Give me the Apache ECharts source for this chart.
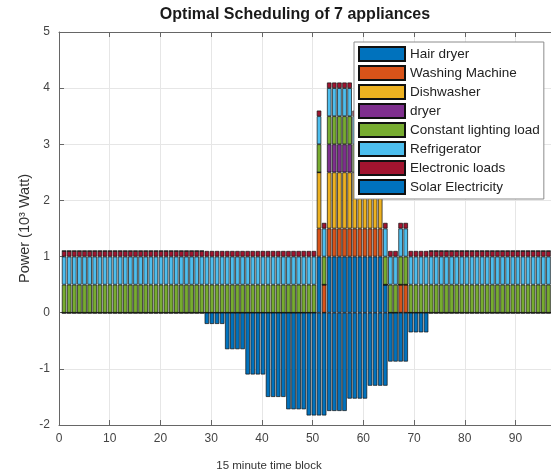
<!DOCTYPE html>
<html>
<head>
<meta charset="utf-8">
<title>Optimal Scheduling of 7 appliances</title>
<script src="https://cdn.jsdelivr.net/npm/echarts@6/dist/echarts.min.js"></script>
<style>
  html, body { margin: 0; padding: 0; background: #fff; }
  #chart { width: 551px; height: 475px; }
</style>
</head>
<body>
<div id="chart"></div>
<script>
// 15-minute time blocks of one day
const blocks = [
  1, 2, 3, 4, 5, 6, 7, 8, 9, 10,
  11, 12, 13, 14, 15, 16, 17, 18, 19, 20,
  21, 22, 23, 24, 25, 26, 27, 28, 29, 30,
  31, 32, 33, 34, 35, 36, 37, 38, 39, 40,
  41, 42, 43, 44, 45, 46, 47, 48, 49, 50,
  51, 52, 53, 54, 55, 56, 57, 58, 59, 60,
  61, 62, 63, 64, 65, 66, 67, 68, 69, 70,
  71, 72, 73, 74, 75, 76, 77, 78, 79, 80,
  81, 82, 83, 84, 85, 86, 87, 88, 89, 90,
  91, 92, 93, 94, 95, 96
];

// Power per block, in kW
const hairDryer = [
  0, 0, 0, 0, 0, 0, 0, 0, 0, 0,
  0, 0, 0, 0, 0, 0, 0, 0, 0, 0,
  0, 0, 0, 0, 0, 0, 0, 0, 0, 0,
  0, 0, 0, 0, 0, 0, 0, 0, 0, 0,
  0, 0, 0, 0, 0, 0, 0, 0, 0, 0,
  1, 0, 1, 1, 1, 1, 1, 1, 1, 1,
  1, 1, 1, 0.5, 0, 0, 0, 0, 0, 0,
  0, 0, 0, 0, 0, 0, 0, 0, 0, 0,
  0, 0, 0, 0, 0, 0, 0, 0, 0, 0,
  0, 0, 0, 0, 0, 0
];

const washingMachine = [
  0, 0, 0, 0, 0, 0, 0, 0, 0, 0,
  0, 0, 0, 0, 0, 0, 0, 0, 0, 0,
  0, 0, 0, 0, 0, 0, 0, 0, 0, 0,
  0, 0, 0, 0, 0, 0, 0, 0, 0, 0,
  0, 0, 0, 0, 0, 0, 0, 0, 0, 0,
  0.5, 0.5, 0.5, 0.5, 0.5, 0.5, 0.5, 0.5, 0.5, 0.5,
  0.5, 0.5, 0.5, 0, 0, 0, 0.5, 0.5, 0, 0,
  0, 0, 0, 0, 0, 0, 0, 0, 0, 0,
  0, 0, 0, 0, 0, 0, 0, 0, 0, 0,
  0, 0, 0, 0, 0, 0
];

const dishwasher = [
  0, 0, 0, 0, 0, 0, 0, 0, 0, 0,
  0, 0, 0, 0, 0, 0, 0, 0, 0, 0,
  0, 0, 0, 0, 0, 0, 0, 0, 0, 0,
  0, 0, 0, 0, 0, 0, 0, 0, 0, 0,
  0, 0, 0, 0, 0, 0, 0, 0, 0, 0,
  1, 0, 1, 1, 1, 1, 1, 1, 1, 1,
  1, 1, 1, 0, 0, 0, 0, 0, 0, 0,
  0, 0, 0, 0, 0, 0, 0, 0, 0, 0,
  0, 0, 0, 0, 0, 0, 0, 0, 0, 0,
  0, 0, 0, 0, 0, 0
];

const dryer = [
  0, 0, 0, 0, 0, 0, 0, 0, 0, 0,
  0, 0, 0, 0, 0, 0, 0, 0, 0, 0,
  0, 0, 0, 0, 0, 0, 0, 0, 0, 0,
  0, 0, 0, 0, 0, 0, 0, 0, 0, 0,
  0, 0, 0, 0, 0, 0, 0, 0, 0, 0,
  0, 0, 0.5, 0.5, 0.5, 0.5, 0.5, 0, 0, 0,
  0, 0, 0, 0, 0, 0, 0, 0, 0, 0,
  0, 0, 0, 0, 0, 0, 0, 0, 0, 0,
  0, 0, 0, 0, 0, 0, 0, 0, 0, 0,
  0, 0, 0, 0, 0, 0
];

const lighting = [
  0.5, 0.5, 0.5, 0.5, 0.5, 0.5, 0.5, 0.5, 0.5, 0.5,
  0.5, 0.5, 0.5, 0.5, 0.5, 0.5, 0.5, 0.5, 0.5, 0.5,
  0.5, 0.5, 0.5, 0.5, 0.5, 0.5, 0.5, 0.5, 0.5, 0.5,
  0.5, 0.5, 0.5, 0.5, 0.5, 0.5, 0.5, 0.5, 0.5, 0.5,
  0.5, 0.5, 0.5, 0.5, 0.5, 0.5, 0.5, 0.5, 0.5, 0.5,
  0.5, 0.5, 0.5, 0.5, 0.5, 0.5, 0.5, 0.5, 0.5, 0.5,
  0.5, 0.5, 0.5, 0.5, 0.5, 0.5, 0.5, 0.5, 0.5, 0.5,
  0.5, 0.5, 0.5, 0.5, 0.5, 0.5, 0.5, 0.5, 0.5, 0.5,
  0.5, 0.5, 0.5, 0.5, 0.5, 0.5, 0.5, 0.5, 0.5, 0.5,
  0.5, 0.5, 0.5, 0.5, 0.5, 0.5
];

const refrigerator = [
  0.5, 0.5, 0.5, 0.5, 0.5, 0.5, 0.5, 0.5, 0.5, 0.5,
  0.5, 0.5, 0.5, 0.5, 0.5, 0.5, 0.5, 0.5, 0.5, 0.5,
  0.5, 0.5, 0.5, 0.5, 0.5, 0.5, 0.5, 0.5, 0.5, 0.5,
  0.5, 0.5, 0.5, 0.5, 0.5, 0.5, 0.5, 0.5, 0.5, 0.5,
  0.5, 0.5, 0.5, 0.5, 0.5, 0.5, 0.5, 0.5, 0.5, 0.5,
  0.5, 0.5, 0.5, 0.5, 0.5, 0.5, 0.5, 0.5, 0.5, 0.5,
  0.5, 0.5, 0.5, 0.5, 0.5, 0.5, 0.5, 0.5, 0.5, 0.5,
  0.5, 0.5, 0.5, 0.5, 0.5, 0.5, 0.5, 0.5, 0.5, 0.5,
  0.5, 0.5, 0.5, 0.5, 0.5, 0.5, 0.5, 0.5, 0.5, 0.5,
  0.5, 0.5, 0.5, 0.5, 0.5, 0.5
];

const electronicLoads = [
  0.1, 0.1, 0.1, 0.1, 0.1, 0.1, 0.1, 0.1, 0.1, 0.1,
  0.1, 0.1, 0.1, 0.1, 0.1, 0.1, 0.1, 0.1, 0.1, 0.1,
  0.1, 0.1, 0.1, 0.1, 0.1, 0.1, 0.1, 0.1, 0.1, 0.1,
  0.1, 0.1, 0.1, 0.1, 0.1, 0.1, 0.1, 0.1, 0.1, 0.1,
  0.1, 0.1, 0.1, 0.1, 0.1, 0.1, 0.1, 0.1, 0.1, 0.1,
  0.1, 0.1, 0.1, 0.1, 0.1, 0.1, 0.1, 0.1, 0.1, 0.1,
  0.1, 0.1, 0.1, 0.1, 0.1, 0.1, 0.1, 0.1, 0.1, 0.1,
  0.1, 0.1, 0.1, 0.1, 0.1, 0.1, 0.1, 0.1, 0.1, 0.1,
  0.1, 0.1, 0.1, 0.1, 0.1, 0.1, 0.1, 0.1, 0.1, 0.1,
  0.1, 0.1, 0.1, 0.1, 0.1, 0.1
];

// Solar generation is drawn as negative load
const solar = [
  0, 0, 0, 0, 0, 0, 0, 0, 0, 0,
  0, 0, 0, 0, 0, 0, 0, 0, 0, 0,
  0, 0, 0, 0, 0, 0, 0, 0, -0.2, -0.2,
  -0.2, -0.2, -0.65, -0.65, -0.65, -0.65, -1.1, -1.1, -1.1, -1.1,
  -1.5, -1.5, -1.5, -1.5, -1.72, -1.72, -1.72, -1.72, -1.83, -1.83,
  -1.83, -1.83, -1.75, -1.75, -1.75, -1.75, -1.53, -1.53, -1.53, -1.53,
  -1.3, -1.3, -1.3, -1.3, -0.87, -0.87, -0.87, -0.87, -0.35, -0.35,
  -0.35, -0.35, 0, 0, 0, 0, 0, 0, 0, 0,
  0, 0, 0, 0, 0, 0, 0, 0, 0, 0,
  0, 0, 0, 0, 0, 0
];

const seriesNames = [
  'Hair dryer', 'Washing Machine', 'Dishwasher', 'dryer',
  'Constant lighting load', 'Refrigerator', 'Electronic loads', 'Solar Electricity'
];
const seriesValues = [
  hairDryer, washingMachine, dishwasher, dryer,
  lighting, refrigerator, electronicLoads, solar
];
const seriesColors = [
  '#0072BD', '#D95319', '#EDB120', '#7E2F8E',
  '#77AC30', '#4DBEEE', '#A2142F', '#0072BD'
];

const xTicks = { min: 0, max: 97, interval: 10 };
const yTicks = { min: -2, max: 5, interval: 1 };

const FONT = '"Liberation Sans", Arial, Helvetica, sans-serif';
const W = 551;
const gridLeft = 59, gridRight = -7, gridTop = 32, gridBottom = 50;
// one block's width in pixels on the 0..97 axis
const slot = (W - gridLeft - gridRight) / (xTicks.max - xTicks.min);

const chart = echarts.init(document.getElementById('chart'), null, { renderer: 'canvas' });

// Grid 0 holds the bars on a category axis whose bands line up with
// integer positions of the value axis in grid 1 (which draws ticks/frame).
const series = seriesNames.map((name, s) => ({
  name,
  type: 'bar',
  stack: 'load',
  barWidth: '88%',
  xAxisIndex: 0,
  yAxisIndex: 0,
  itemStyle: {
    color: seriesColors[s],
    borderColor: '#111',
    borderWidth: 0.7
  },
  emphasis: { disabled: true },
  data: seriesValues[s]
}));

const axisLineStyle = { color: '#666', width: 1 };

chart.setOption({
  animation: false,
  backgroundColor: '#fff',
  textStyle: { fontFamily: FONT },
  title: [
    {
      text: 'Optimal Scheduling of 7 appliances',
      left: 290,
      top: 2,
      textAlign: 'center',
      textStyle: { fontFamily: FONT, fontSize: 16, fontWeight: 'bold', color: '#1a1a1a' }
    },
    {
      text: '15 minute time block',
      left: 264,
      top: 455,
      textAlign: 'center',
      textStyle: { fontFamily: FONT, fontSize: 11.5, fontWeight: 'normal', color: '#333' }
    }
  ],
  grid: [
    {
      left: gridLeft + slot / 2, right: gridRight + slot / 2,
      top: gridTop, bottom: gridBottom, containLabel: false, z: 2
    },
    {
      left: gridLeft, right: gridRight,
      top: gridTop, bottom: gridBottom, containLabel: false, z: 0
    }
  ],
  legend: {
    orient: 'vertical',
    left: 354,
    top: 42,
    padding: [4, 4, 4, 4],
    itemGap: 3.0,
    itemWidth: 46,
    itemHeight: 14,
    backgroundColor: '#fff',
    borderColor: '#8c8c8c',
    borderWidth: 1,
    borderRadius: 0,
    selectedMode: false,
    textStyle: { fontFamily: FONT, fontSize: 13.5, color: '#222' },
    data: seriesNames.map(n => ({ name: n, icon: 'rect' })),
    z: 10
  },
  xAxis: [
    {
      type: 'category',
      gridIndex: 0,
      data: blocks,
      boundaryGap: true,
      axisLine: { show: false },
      axisTick: { show: false },
      axisLabel: { show: false },
      splitLine: { show: false }
    },
    {
      type: 'value',
      gridIndex: 1,
      min: xTicks.min, max: xTicks.max, interval: xTicks.interval,
      position: 'bottom',
      axisLine: { show: true, onZero: false, lineStyle: axisLineStyle },
      axisTick: { show: true, inside: true, length: 5, lineStyle: axisLineStyle },
      axisLabel: { color: '#444', fontSize: 12, fontFamily: FONT, margin: 8, showMaxLabel: false },
      splitLine: { show: true, lineStyle: { color: '#e6e6e6', width: 1 } }
    },
    {
      type: 'value',
      gridIndex: 1,
      min: xTicks.min, max: xTicks.max, interval: xTicks.interval,
      position: 'top',
      axisLine: { show: true, onZero: false, lineStyle: axisLineStyle },
      axisTick: { show: true, inside: true, length: 5, lineStyle: axisLineStyle },
      axisLabel: { show: false },
      splitLine: { show: false }
    }
  ],
  yAxis: [
    {
      type: 'value',
      gridIndex: 0,
      min: yTicks.min, max: yTicks.max, interval: yTicks.interval,
      axisLine: { show: false },
      axisTick: { show: false },
      axisLabel: { show: false },
      splitLine: { show: false }
    },
    {
      type: 'value',
      gridIndex: 1,
      min: yTicks.min, max: yTicks.max, interval: yTicks.interval,
      position: 'left',
      name: 'Power (10³ Watt)',
      nameLocation: 'middle',
      nameGap: 27,
      nameMoveOverlap: false,
      nameTextStyle: { fontFamily: FONT, fontSize: 14.5, color: '#333' },
      axisLine: { show: true, onZero: false, lineStyle: axisLineStyle },
      axisTick: { show: true, inside: true, length: 5, lineStyle: axisLineStyle },
      axisLabel: { color: '#444', fontSize: 12, fontFamily: FONT, margin: 9 },
      splitLine: { show: true, lineStyle: { color: '#e6e6e6', width: 1 } }
    }
  ],
  series
});
</script>
</body>
</html>
